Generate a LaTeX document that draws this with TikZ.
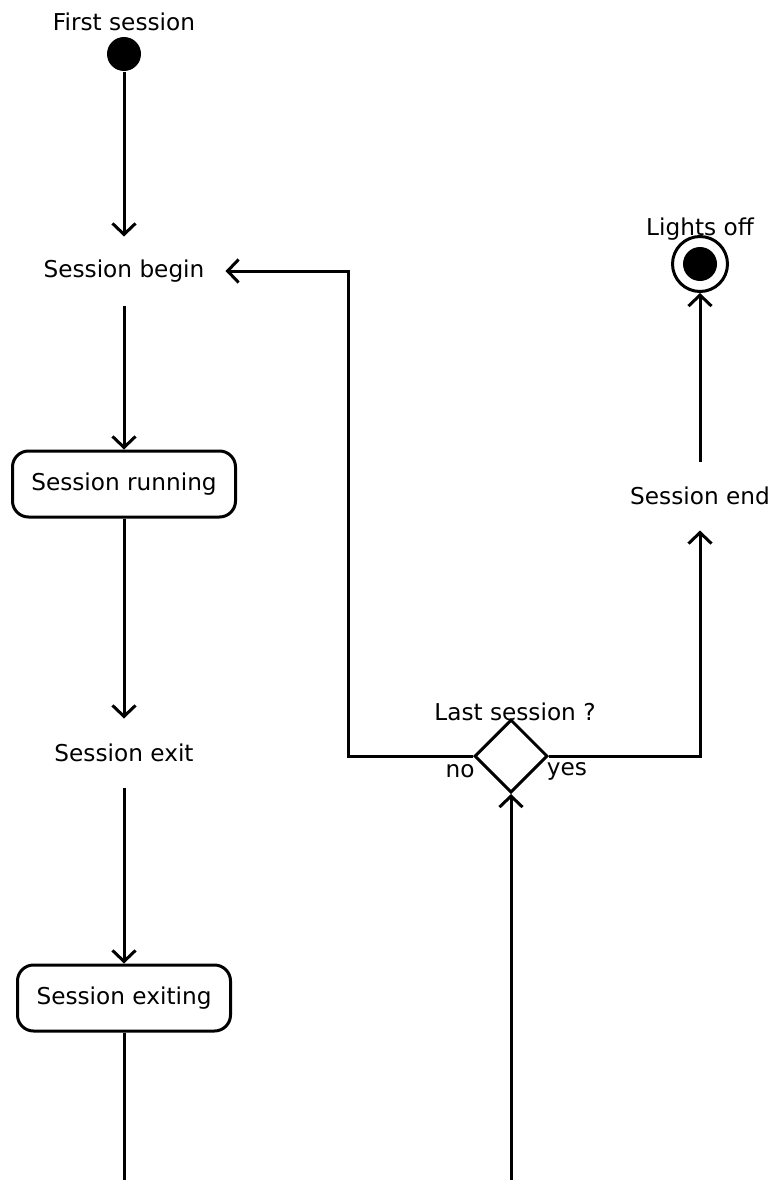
\documentclass[tikz,border=0pt]{standalone}
\usepackage{fontspec}
\setmainfont{DejaVu Sans}
\usetikzlibrary{arrows.meta}
\usetikzlibrary{shapes.geometric}
\usetikzlibrary{calc}

\begin{document}
\begin{tikzpicture}[x = 1pt, y = -1pt, line width = 3pt, font = \fontsize{23.2}{27}\selectfont]
		\useasboundingbox (0, 0) rectangle (775, 1180);

		\begin{scope}[every node/.style={minimum width = 200pt, minimum height = 66pt, inner sep = 0pt}]
		\node (begin) at (124, 271) {Session begin};
		\node (exit) at (124, 753) {Session exit};
		\node (end) at (700, 496) {Session end};
		\end{scope}

		\begin{scope}[every node/.style={rectangle, draw, rounded corners = 16pt, minimum height = 66pt, inner sep = 0pt}]
		\node (running) [minimum width = 223pt] at (124, 484) {Session running};
		\node (exiting) [minimum width = 213pt] at (124, 998) {Session exiting};
		\end{scope}

		\begin{scope}[every node/.style={circle, inner sep = 0pt}]
		\node (first) [fill, minimum size = 34pt] at (124, 54) {};
		\node (off) [draw, minimum size = 55pt] at (700, 264) {};
		\node (offdot) [fill, minimum size = 34pt] at (off) {};
		\end{scope}

		\node (last) [diamond, draw, minimum width = 73pt, minimum height = 73pt, inner sep = 0pt] at (511, 756) {};

		\node (firstlabel) at (124, 22) {First session};
		\node (offlabel) at (700, 229) {Lights off};
		\node (lastlabel) at (515, 712) {Last session ?};
		\node (no) at (460, 771) {no};
		\node (yes) at (567, 771) {yes};

		\coordinate (bottomleft) at (124, 1180);
		\coordinate (bottomright) at (511, 1180);

		\begin{scope}[>={Straight Barb[length = 11pt, width = 23pt]}]
		\path [->] 	(first) edge [draw] node {} (begin);
		\path [->] 	(begin) edge [draw] node {} (running);
		\path [->] 	(running) edge [draw] node {} (exit);
		\path [->] 	(exit) edge [draw] node {} (exiting);
		\path [->] 	(end) edge [draw] node {} (off);
		\draw [->] (last.west) -| ($(begin.east) + (123, 0)$) -- (begin.east);
		\draw [->] (last.east) -| (end.south);
		\draw (exiting) -- (bottomleft);
		\draw [->] (bottomright) -- (last.south);
		\end{scope}

		\end{tikzpicture}
\end{document}
